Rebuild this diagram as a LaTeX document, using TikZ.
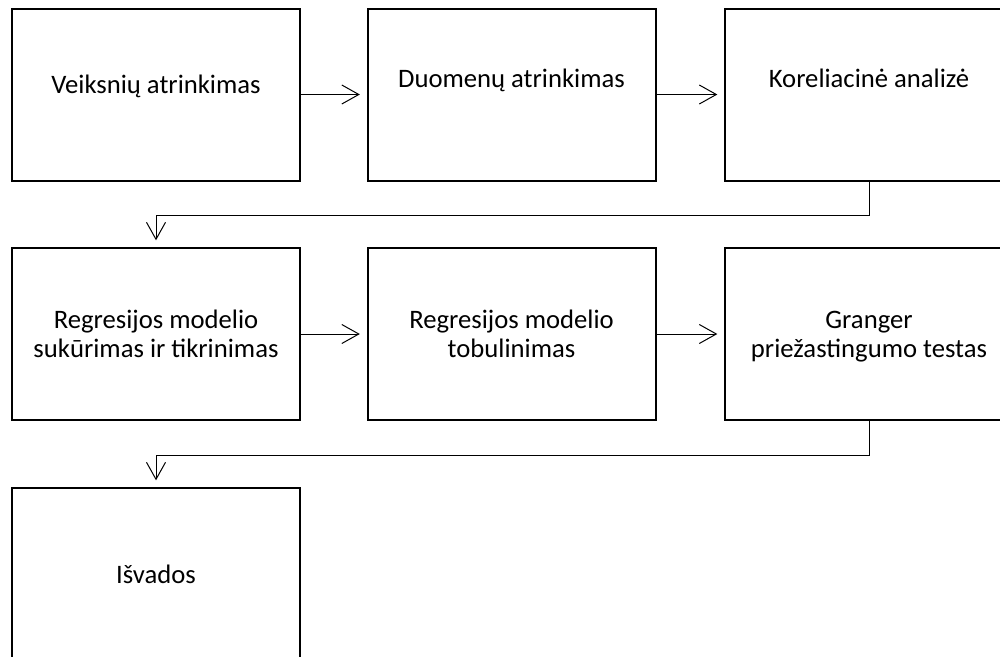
\documentclass[tikz,border=0pt]{standalone}
\usepackage{fontspec}
\setmainfont{Carlito}
\usetikzlibrary{positioning, arrows.meta}
\definecolor{flowLine}{HTML}{000000}

\begin{document}
\begin{tikzpicture}[
    x=0.75pt, y=-0.75pt,
    stepBox/.style={draw=flowLine, line width=1.5pt, rectangle, minimum width=216pt, minimum height=129pt, align=center, inner sep=2pt, font=\fontsize{20pt}{21.75pt}\selectfont},
    highText/.style={text height=12pt, text depth=23pt},
    >={Straight Barb[length=12.75pt, width=14.25pt]},
    flow/.style={draw=flowLine, line width=0.75pt, ->, shorten >=5pt},
]
\useasboundingbox (0,0) rectangle (1000,657);
\node[stepBox, text height=12pt, text depth=14pt] (factors) at (156,  94.5) {Veiksnių atrinkimas};
\node[stepBox, highText] (data)     at (511.5, 94.5) {Duomenų atrinkimas};
\node[stepBox, highText] (corr)     at (869,  94.5) {Koreliacinė analizė};
\node[stepBox] (regbuild) at (156,  334) {Regresijos modelio\\sukūrimas ir tikrinimas};
\node[stepBox] (regimpr)  at (511.5, 334) {Regresijos modelio\\tobulinimas};
\node[stepBox, text depth=0pt] (granger) at (869, 334) {Granger\\priežastingumo testas};
\node[stepBox] (concl)    at (156,  574) {Išvados};
\draw[flow] (factors) -- (data);
\draw[flow] (data) -- (corr);
\draw[flow] (corr.south) -- ++(0,34) -| (regbuild.north);
\draw[flow] (regbuild) -- (regimpr);
\draw[flow] (regimpr) -- (granger);
\draw[flow] (granger.south) -- ++(0,34) -| (concl.north);
\end{tikzpicture}
\end{document}
